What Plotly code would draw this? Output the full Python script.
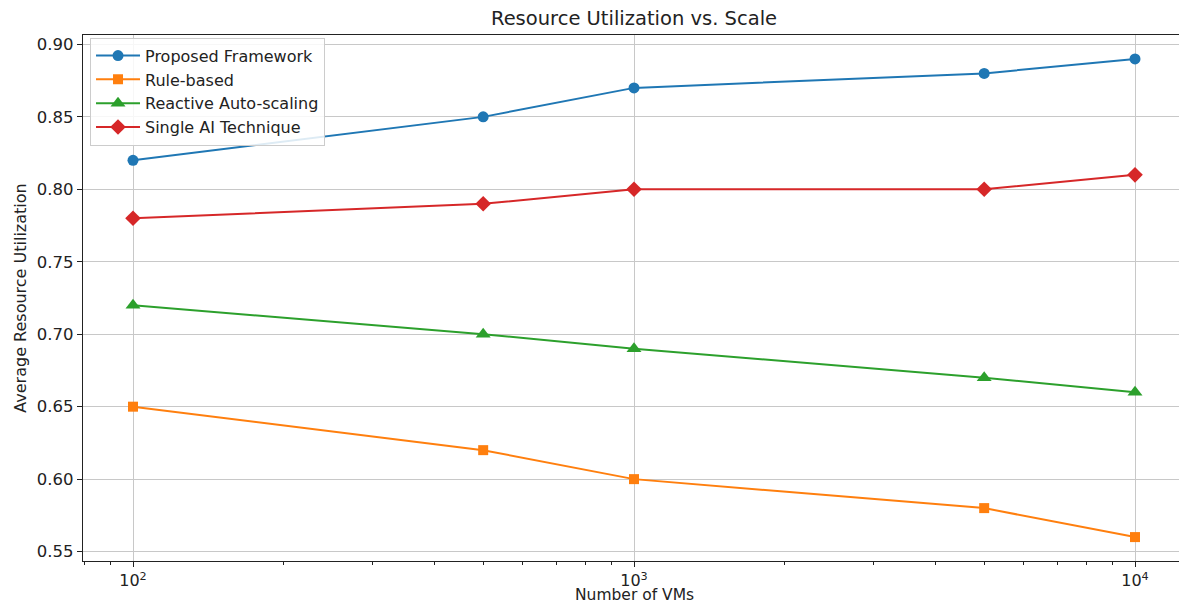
import plotly.graph_objects as go

vms = [100, 500, 1000, 5000, 10000]
proposed = [0.82, 0.85, 0.87, 0.88, 0.89]
rule_based = [0.65, 0.62, 0.60, 0.58, 0.56]
reactive = [0.72, 0.70, 0.69, 0.67, 0.66]
single_ai = [0.78, 0.79, 0.80, 0.80, 0.81]

series = [
    ("Proposed Framework", proposed, "#1f77b4", "circle", 11),
    ("Rule-based", rule_based, "#ff7f0e", "square", 10),
    ("Reactive Auto-scaling", reactive, "#2ca02c", "triangle-up", 13),
    ("Single AI Technique", single_ai, "#d62728", "diamond", 12),
]

fig = go.Figure()
for name, vals, color, sym, sz in series:
    fig.add_trace(go.Scatter(
        x=vms, y=vals, name=name, mode="lines+markers",
        line=dict(color=color, width=2),
        marker=dict(symbol=sym, size=sz, color=color),
    ))

font = "DejaVu Sans, Arial, sans-serif"
major = [100, 1000, 10000]
minor_vals = [m * 10 ** e for e in (1, 2, 3) for m in range(2, 10)]
minor_vals = [v for v in minor_vals if 75 <= v <= 13000 and v not in major]

fig.update_layout(
    width=1179, height=605,
    margin=dict(l=83, r=0, t=35, b=44, autoexpand=False),
    plot_bgcolor="white", paper_bgcolor="white",
    font=dict(family=font, color="#222222"),
    title=dict(text="Resource Utilization vs. Scale", x=(634 - 83) / 1096, xref="paper",
               xanchor="center", y=1 - 18 / 605, yref="container", yanchor="middle",
               font=dict(size=19.5, family=font, color="#222222")),
    showlegend=True,
    legend=dict(x=0.0064, y=0.995, xanchor="left", yanchor="top",
                bgcolor="rgba(255,255,255,0.85)", bordercolor="#cccccc", borderwidth=1,
                font=dict(size=16, family=font), tracegroupgap=0,
                itemwidth=44),
    annotations=[dict(text="Number of VMs", xref="paper", yref="paper",
                      x=(634 - 83) / 1096, y=-(595 - 561) / 526,
                      xanchor="center", yanchor="middle", showarrow=False,
                      font=dict(size=15.5, family=font, color="#222222"))],
    xaxis=dict(
        type="log", range=[1.9002, 1.9002 + 1096 / 501], automargin=False,
        tickvals=major, ticktext=["10<sup>2</sup>", "10<sup>3</sup>", "10<sup>4</sup>"],
        ticks="outside", ticklen=5, tickcolor="#222222", tickwidth=1,
        tickfont=dict(size=16, family=font),
        showgrid=True, gridcolor="#c8c8c8", gridwidth=1,
        showline=True, linecolor="#222222", linewidth=1.2, mirror=True,
        zeroline=False,
        minor=dict(tickvals=minor_vals, ticks="outside", ticklen=3, tickcolor="#222222", showgrid=False),
    ),
    yaxis=dict(
        range=[0.5435, 0.9065], automargin=False,
        tickvals=[0.55, 0.60, 0.65, 0.70, 0.75, 0.80, 0.85, 0.90],
        ticktext=["0.55", "0.60", "0.65", "0.70", "0.75", "0.80", "0.85", "0.90"],
        ticks="outside", ticklen=5, tickcolor="#222222",
        tickfont=dict(size=16.5, family=font),
        showgrid=True, gridcolor="#c8c8c8", gridwidth=1,
        showline=True, linecolor="#222222", linewidth=1.2, mirror=False,
        zeroline=False,
        title=dict(text="Average Resource Utilization", font=dict(size=16, family=font), standoff=6),
    ),
)

fig.write_html("out.html", config={"displayModeBar": False},
               post_script="document.body.style.margin='0';document.body.style.overflow='hidden';")
